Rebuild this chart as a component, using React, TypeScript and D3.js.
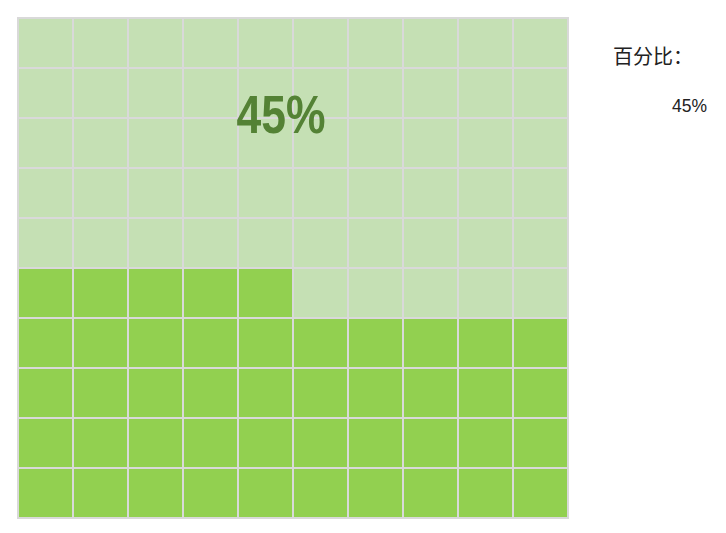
import React from "react";
import * as d3 from "d3";

const percentValue = 45;
const gridRows = d3.range(10);
const gridCols = d3.range(10);
const legendTitle = "百分比：";
const legendLabel = "45%";

export default function App() {
  const width = 726;
  const height = 533;
  const x = d3.scaleBand<number>().domain(gridCols).range([18, 568]);
  const y = d3.scaleBand<number>().domain(gridRows).range([18, 518]);
  const cells = [] as { r: number; c: number; filled: boolean }[];
  gridRows.forEach((r) =>
    gridCols.forEach((c) => {
      const idx = (gridRows.length - 1 - r) * gridCols.length + c;
      cells.push({ r, c, filled: idx < percentValue });
    })
  );
  return (
    <svg
      width={width}
      height={height}
      style={{ position: "absolute", left: 0, top: 0 }}
    >
      <rect x={0} y={0} width={width} height={height} fill="#fff" />
      {cells.map((d) => (
        <rect
          key={`${d.r}-${d.c}`}
          x={x(d.c)}
          y={y(d.r)}
          width={x.bandwidth()}
          height={y.bandwidth()}
          fill={d.filled ? "#92d050" : "#c5e0b4"}
          stroke="#d9d9d9"
          strokeWidth={2}
        />
      ))}
      <text
        x={236.5}
        y={133}
        fontFamily="Liberation Sans, Arial, sans-serif"
        fontWeight="bold"
        fontSize={53}
        fill="#548235"
        textLength={89}
        lengthAdjust="spacingAndGlyphs"
      >
        {`${percentValue}%`}
      </text>
      <text
        x={613}
        y={64}
        fontFamily="Noto Sans CJK SC, sans-serif"
        fontSize={20}
        fill="#222"
      >
        {legendTitle}
      </text>
      <text
        x={672}
        y={112}
        fontFamily="Liberation Sans, Arial, sans-serif"
        fontSize={18}
        fill="#222"
        textLength={35}
        lengthAdjust="spacingAndGlyphs"
      >
        {legendLabel}
      </text>
    </svg>
  );
}
